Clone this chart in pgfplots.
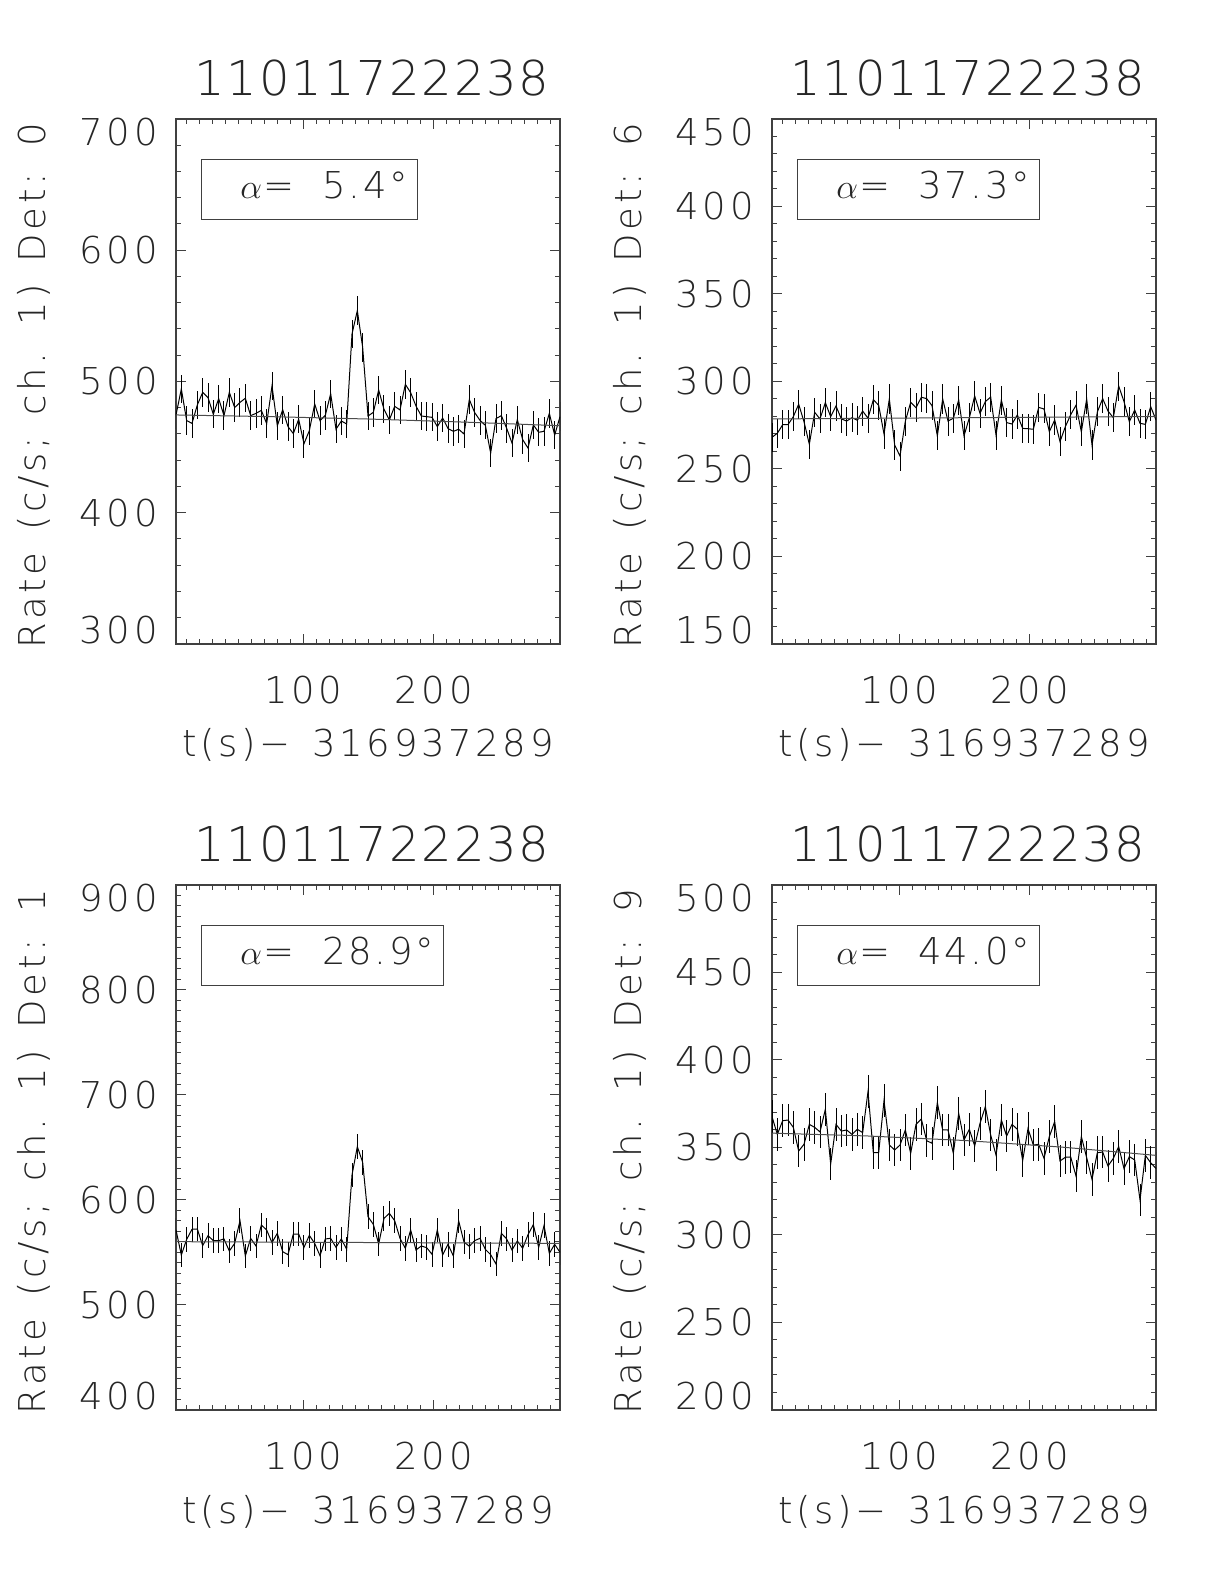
\documentclass[border=0pt]{standalone}
\usepackage{pgfplots}
\pgfplotsset{compat=1.18}
\usepackage{pgfplotstable}
\usepackage{fontspec}
\setmainfont{DejaVu Sans ExtraLight}
\newfontfamily\lblfont[LetterSpace=10, WordSpace=1.4]{DejaVu Sans ExtraLight}
\newfontfamily\ttlfont[LetterSpace=4]{DejaVu Sans ExtraLight}
\newfontfamily\legfont[LetterSpace=7]{DejaVu Sans ExtraLight}
\newcommand\lbl{\lblfont\fontsize{18.5pt}{22pt}\selectfont\color{black!85}}
\newcommand\leg{\legfont\fontsize{18.5pt}{22pt}\selectfont\color{black!85}}
\newcommand\ttl{\ttlfont\fontsize{24pt}{28pt}\selectfont\color{black!85}}
\newcommand\toplab[1]{\raisebox{0pt}[27pt][0pt]{#1}}
\newcommand\botlab[1]{\raisebox{0pt}[13.5pt][13.5pt]{#1}}
\newcommand\alab[1]{$\alpha$\hspace{0.7pt}=\hspace{14pt}#1°}
\tikzset{abox/.style={draw=black!75, line width=0.5pt, anchor=north west, minimum height=30pt, inner sep=0pt}}

\pgfplotstableread{
t p0 p6 p1 p9
2.10 474.5 268.1 571.4 367.6
6.20 494.3 270.4 547.6 357.5
10.29 470.2 275.3 562.5 365.3
14.39 468.1 275.3 572.1 365.7
18.48 482.1 279.9 572.4 361.5
22.58 491.7 287.0 556.5 348.0
26.68 487.7 277.0 566.0 351.8
30.77 475.0 264.1 561.3 363.2
34.87 486.9 282.4 561.3 361.5
38.96 474.0 278.6 562.9 358.9
43.06 491.7 287.9 551.4 371.8
47.16 480.1 279.9 558.7 340.6
51.25 484.1 286.0 580.3 363.2
55.35 487.2 278.6 546.7 359.4
59.44 474.0 277.4 563.5 360.0
63.54 475.7 279.3 556.2 357.5
67.64 478.0 277.8 576.2 360.4
71.73 467.9 283.1 571.4 358.5
75.83 496.6 279.0 559.4 381.9
79.92 466.3 289.6 568.3 347.0
84.02 478.5 286.4 550.8 347.0
88.12 465.6 270.0 547.9 376.8
92.21 460.3 290.0 567.6 351.4
96.31 471.2 263.7 567.6 348.6
100.40 452.6 257.4 554.9 351.4
104.50 462.5 277.3 566.3 360.0
108.60 482.9 288.1 558.7 346.7
112.69 470.2 285.0 547.0 363.2
116.79 474.2 291.0 562.9 366.3
120.88 490.7 290.2 563.5 353.9
124.98 463.6 286.2 554.9 352.4
129.08 469.9 268.9 562.9 375.6
133.17 467.6 290.0 553.0 360.0
137.27 536.2 277.4 623.8 360.0
141.36 554.0 279.0 650.8 346.7
145.46 526.0 289.4 635.9 369.5
149.56 473.7 268.9 584.1 354.3
153.65 476.5 279.3 576.8 360.4
157.75 493.5 291.7 558.1 350.9
161.84 478.8 281.8 582.5 363.8
165.94 470.7 288.5 587.3 373.3
170.04 481.1 291.1 580.3 357.1
174.13 478.3 269.4 563.5 345.7
178.23 497.8 289.4 554.0 365.7
182.32 491.5 276.5 571.4 356.6
186.42 481.3 275.7 552.4 363.2
190.52 473.7 280.9 556.2 360.4
194.61 473.2 273.2 554.6 342.5
198.71 472.7 273.0 548.3 360.8
202.80 465.6 272.7 571.4 351.4
206.90 472.2 285.2 547.6 351.8
211.00 464.1 284.3 557.8 343.8
215.09 462.0 271.3 546.7 356.2
219.19 463.6 278.0 580.0 364.8
223.28 460.0 265.6 560.0 342.3
227.38 486.2 274.2 555.9 344.4
231.48 476.3 281.0 561.3 344.6
235.57 470.4 286.4 563.5 333.7
239.67 466.6 271.3 553.0 356.2
243.76 445.5 290.0 547.9 344.2
247.86 471.7 263.7 539.0 331.8
251.96 474.0 282.6 568.3 347.0
256.05 464.3 290.2 562.9 347.4
260.15 453.1 283.1 552.4 339.4
264.24 470.9 279.3 561.0 343.8
268.34 455.7 297.4 554.0 350.5
272.44 449.3 288.5 567.0 337.9
276.53 466.9 277.0 576.5 344.8
280.63 461.3 283.7 554.9 342.9
284.72 462.0 276.1 575.6 320.0
288.82 475.7 275.5 549.2 345.5
292.92 459.2 285.6 557.8 341.3
297.01 473.2 278.0 550.2 338.0
}\datatab

\pgfplotsset{
  idl/.style={
    scale only axis, width=192pt, height=262.5pt,
    xmin=2.1, xmax=297.01,
    xtick={100,200}, xticklabels={100,200},
    minor xtick={10,20,...,290},
    tick align=inside, tick pos=both,
    xticklabel pos=lower, yticklabel pos=left,
    major tick length=5pt, minor tick length=2.5pt,
    axis line style={black!75, line width=0.6pt},
    every tick/.style={black!75, line width=0.5pt},
    tick label style={font=\lbl, inner sep=0pt},
    xticklabel style={anchor=north, yshift=-16pt},
    yticklabel style={anchor=east, xshift=-9pt},
    title style={font=\ttl, at={(axis description cs:0.5,1)}, anchor=base, yshift=5.5pt, xshift=2pt, inner sep=0pt},
    xlabel style={font=\lbl, at={(axis description cs:0.5,0)}, anchor=base, yshift=-56.5pt, inner sep=0pt},
    ylabel style={font=\lbl, at={(axis description cs:-0.341,0.492)}, anchor=base, inner sep=0pt},
    title={11011722238},
    xlabel={t(s)− 316937289},
  },
  dat/.style={black, line width=0.5pt, mark=none},
  fit/.style={black!70, line width=0.5pt, mark=none},
}

\begin{document}
\begin{tikzpicture}
\useasboundingbox (0,0) rectangle (612pt,792pt);

% Panel 1 : Det 0
\begin{axis}[idl, at={(88pt,470pt)}, anchor=south west,
  ymin=300, ymax=700, ytick={300,400,500,600,700},
  yticklabels={\botlab{300},400,500,600,\toplab{700}},
  minor ytick={320,340,...,680},
  ylabel={Rate (c/s; ch. 1) Det: 0}]
\addplot[dat, error bars/.cd, y dir=both, y fixed=10.8, error mark=none, error bar style={black, line width=0.5pt}] table[x=t, y=p0]{\datatab};
\addplot[fit] coordinates {(2.1,474.5) (75,473.2) (150,471.4) (225,469.0) (297.01,466.3)};
\node[abox, minimum width=108pt] (b) at ([xshift=12.5pt,yshift=-20pt]rel axis cs:0,1) {};
\node[anchor=base west, inner sep=0pt, font=\leg] at ([xshift=19.5pt,yshift=-20pt]b.north west) {\alab{5.4}};
\end{axis}

% Panel 2 : Det 6
\begin{axis}[idl, at={(386pt,470pt)}, anchor=south west,
  ymin=150, ymax=450, ytick={150,200,250,300,350,400,450},
  yticklabels={\botlab{150},200,250,300,350,400,\toplab{450}},
  minor ytick={160,170,...,440},
  ylabel={Rate (c/s; ch. 1) Det: 6}]
\addplot[dat, error bars/.cd, y dir=both, y fixed=8.3, error mark=none, error bar style={black, line width=0.5pt}] table[x=t, y=p6]{\datatab};
\addplot[fit] coordinates {(2.1,278.6) (150,279.3) (297.01,280.0)};
\node[abox, minimum width=121pt] (b) at ([xshift=12.5pt,yshift=-20pt]rel axis cs:0,1) {};
\node[anchor=base west, inner sep=0pt, font=\leg] at ([xshift=19.5pt,yshift=-20pt]b.north west) {\alab{37.3}};
\end{axis}

% Panel 3 : Det 1
\begin{axis}[idl, at={(88pt,87pt)}, anchor=south west,
  ymin=400, ymax=900, ytick={400,500,600,700,800,900},
  yticklabels={\botlab{400},500,600,700,800,\toplab{900}},
  minor ytick={410,420,...,890},
  ylabel={Rate (c/s; ch. 1) Det: 1}]
\addplot[dat, error bars/.cd, y dir=both, y fixed=11.7, error mark=none, error bar style={black, line width=0.5pt}] table[x=t, y=p1]{\datatab};
\addplot[fit] coordinates {(2.1,560.3) (150,559.5) (297.01,558.7)};
\node[abox, minimum width=121pt] (b) at ([xshift=12.5pt,yshift=-20pt]rel axis cs:0,1) {};
\node[anchor=base west, inner sep=0pt, font=\leg] at ([xshift=19.5pt,yshift=-20pt]b.north west) {\alab{28.9}};
\end{axis}

% Panel 4 : Det 9
\begin{axis}[idl, at={(386pt,87pt)}, anchor=south west,
  ymin=200, ymax=500, ytick={200,250,300,350,400,450,500},
  yticklabels={\botlab{200},250,300,350,400,450,\toplab{500}},
  minor ytick={210,220,...,490},
  ylabel={Rate (c/s; ch. 1) Det: 9}]
\addplot[dat, error bars/.cd, y dir=both, y fixed=9.3, error mark=none, error bar style={black, line width=0.5pt}] table[x=t, y=p9]{\datatab};
\addplot[fit] coordinates {(2.1,358.2) (75,356.6) (150,354.0) (225,350.2) (297.01,345.5)};
\node[abox, minimum width=121pt] (b) at ([xshift=12.5pt,yshift=-20pt]rel axis cs:0,1) {};
\node[anchor=base west, inner sep=0pt, font=\leg] at ([xshift=19.5pt,yshift=-20pt]b.north west) {\alab{44.0}};
\end{axis}
\end{tikzpicture}
\end{document}
